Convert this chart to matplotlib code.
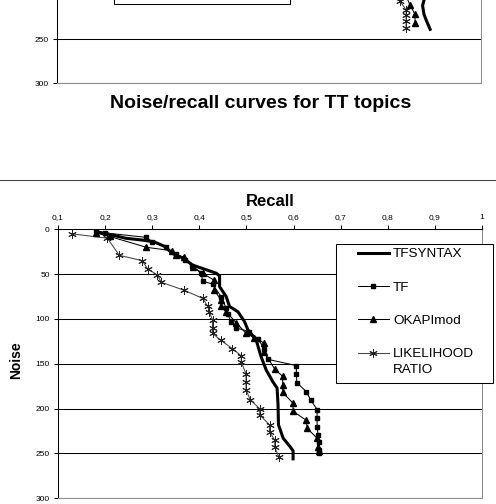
import matplotlib.pyplot as plt
import numpy as np
from matplotlib.legend_handler import HandlerLine2D
from matplotlib.lines import Line2D
from matplotlib.patches import Rectangle
from matplotlib.ticker import FuncFormatter

plt.rcParams["font.family"] = ["Liberation Sans", "DejaVu Sans"]

# ---- data ----
series_labels = ["TFSYNTAX", "TF", "OKAPImod", "LIKELIHOOD\nRATIO"]
recall_ticks = [0.1, 0.2, 0.3, 0.4, 0.5, 0.6, 0.7, 0.8, 0.9, 1.0]
noise_ticks = [0, 50, 100, 150, 200, 250, 300]
prev_noise_ticks = [250, 300]

tfsyntax_recall = [0.18, 0.184, 0.212, 0.244, 0.279, 0.304, 0.326, 0.343, 0.365, 0.386,
                   0.414, 0.436, 0.443, 0.443, 0.457, 0.464, 0.482, 0.496, 0.503, 0.521,
                   0.531, 0.542, 0.556, 0.565, 0.567, 0.568, 0.578, 0.592, 0.599, 0.599]
tfsyntax_noise = [0, 3, 6, 10, 12, 14, 19, 27, 32, 40,
                  45, 49, 52, 64, 75, 86, 92, 103, 112, 124,
                  142, 157, 170, 177, 195, 218, 233, 242, 247, 256]

tf_recall = [0.18, 0.20, 0.287, 0.30, 0.33, 0.35, 0.37, 0.385, 0.404, 0.407,
             0.428, 0.446, 0.457, 0.460, 0.467, 0.478, 0.506, 0.524, 0.538, 0.545,
             0.606, 0.606, 0.607, 0.627, 0.636, 0.650, 0.650, 0.650, 0.652, 0.654,
             0.655, 0.655]
tf_noise = [2, 4, 9, 14, 20, 28, 34, 41, 49, 58,
            61, 75, 88, 94, 103, 110, 114, 122, 133, 145,
            152, 161, 171, 181, 190, 201, 211, 220, 229, 237,
            246, 249]

okapi_recall = [0.18, 0.21, 0.287, 0.343, 0.350, 0.368, 0.386, 0.407, 0.432, 0.432,
                0.446, 0.446, 0.457, 0.478, 0.499, 0.517, 0.538, 0.538, 0.560, 0.577,
                0.577, 0.577, 0.599, 0.599, 0.627, 0.629, 0.650, 0.652, 0.654]
okapi_noise = [4, 8, 20, 24, 29, 31, 42, 49, 57, 68,
               79, 86, 92, 104, 116, 121, 127, 137, 156, 164,
               174, 182, 194, 203, 213, 222, 233, 243, 247]

lr_recall = [0.129, 0.205, 0.230, 0.279, 0.290, 0.311, 0.319, 0.368, 0.407, 0.418,
             0.421, 0.428, 0.428, 0.428, 0.446, 0.470, 0.489, 0.489, 0.499, 0.499,
             0.499, 0.508, 0.528, 0.528, 0.549, 0.549, 0.560, 0.560, 0.569]
lr_noise = [5, 10, 29, 35, 44, 51, 59, 68, 77, 86,
            92, 101, 110, 116, 124, 133, 141, 148, 161, 170,
            179, 190, 200, 207, 218, 226, 235, 243, 254]

# tail of the previous chart (only its bottom is visible at the top of the image)
prev_tfsyntax_recall = [0.878, 0.879, 0.876, 0.879, 0.884, 0.892]
prev_tfsyntax_noise = [195, 206, 212, 222, 229, 239]
prev_okapi_recall = [0.840, 0.849, 0.860, 0.860]
prev_okapi_noise = [200, 211, 222, 232]
prev_lr_recall = [0.826, 0.828, 0.841, 0.841, 0.841, 0.841]
prev_lr_noise = [200, 207, 217, 223, 230, 238]

W, H = 496, 504
fig = plt.figure(figsize=(W / 100, H / 100), dpi=100)


def px_box(x0, y0, x1, y1):
    """pixel box (origin top-left) -> figure fraction rect"""
    return [x0 / W, 1 - y1 / H, (x1 - x0) / W, (y1 - y0) / H]


def style_axes(a, yticks):
    a.set_xlim(0.1, 1.0)
    a.set_ylim(300, 0)
    a.set_yticks(yticks)
    a.yaxis.set_major_formatter(FuncFormatter(lambda v, p: f"{v:g}"))
    a.set_axisbelow(True)
    a.grid(axis="y", color="black", linewidth=0.75)
    a.grid(axis="x", visible=False)
    a.xaxis.tick_top()
    a.set_xticks(recall_ticks)
    a.xaxis.set_major_formatter(
        FuncFormatter(lambda v, p: f"{v:g}".replace(".", ","))
    )
    a.tick_params(direction="out", length=3, width=0.75, labelsize=6, pad=3,
                  colors="black")
    for s in ("left", "top"):
        a.spines[s].set_color("black")
        a.spines[s].set_linewidth(0.75)
    for s in ("right", "bottom"):
        a.spines[s].set_color("#8c8c8c")
        a.spines[s].set_linewidth(0.75)


thin = dict(color="black", linewidth=0.75)
lr_style = dict(color="#444444", linewidth=0.75, marker=(6, 2, 0), markersize=6,
                markeredgecolor="#222222", markeredgewidth=0.7)

# previous chart tail
top = fig.add_axes(px_box(57, 83 - 264, 481, 83))
style_axes(top, prev_noise_ticks)
top.tick_params(axis="x", top=False, labeltop=False)
top.plot(prev_lr_recall, prev_lr_noise, **lr_style)
top.plot(prev_okapi_recall, prev_okapi_noise, marker="^", markersize=5, **thin)
top.plot(prev_tfsyntax_recall, prev_tfsyntax_noise, color="black", linewidth=2.2)
fig.add_artist(Rectangle((114 / W, 1 - 4.3 / H), 176 / W, 0.1,
                         transform=fig.transFigure, facecolor="white",
                         edgecolor="black", linewidth=0.75, zorder=4))

fig.text(261 / W, 1 - 104 / H, "Noise/recall curves for TT topics",
         ha="center", va="center", fontsize=14, fontweight="bold")

fig.add_artist(Line2D([0, 1], [1 - 179.7 / H] * 2, transform=fig.transFigure,
                      color="#404040", linewidth=0.75))

# main chart
ax = fig.add_axes(px_box(58, 229.3, 482, 498.3))
style_axes(ax, noise_ticks)
ax.xaxis.set_label_position("top")
ax.set_xlabel("Recall", fontsize=12, fontweight="bold", labelpad=6)
ax.set_ylabel("Noise", fontsize=10, fontweight="bold", va="center")
ax.yaxis.set_label_coords(-0.099, 0.512)

h_lr, = ax.plot(lr_recall, lr_noise, **lr_style)
h_ok, = ax.plot(okapi_recall, okapi_noise, marker="^", markersize=5, **thin)
h_tf, = ax.plot(tf_recall, tf_noise, marker="s", markersize=3, **thin)
h_ts, = ax.plot(tfsyntax_recall, tfsyntax_noise, color="black", linewidth=2.2)


class FirstLineHandler(HandlerLine2D):
    """put the handle next to the first line of a two-line label"""

    def create_artists(self, legend, orig_handle, xdescent, ydescent, width,
                       height, fontsize, trans):
        arts = super().create_artists(legend, orig_handle, xdescent, ydescent,
                                      width, height, fontsize, trans)
        for a in arts:
            a.set_ydata(np.asarray(a.get_ydata(), float) + 0.64 * fontsize)
        return arts


fig.add_artist(Rectangle((336 / W, 1 - 383 / H), 157 / W, 139 / H,
                         transform=fig.transFigure, facecolor="white",
                         edgecolor="black", linewidth=0.75, zorder=4))
leg = fig.legend([h_ts, h_tf, h_ok, h_lr], series_labels, loc="upper left",
                 bbox_to_anchor=(358 / W, 1 - 248 / H), frameon=False,
                 fontsize=9.7, handlelength=2.3, handletextpad=0.3,
                 labelspacing=1.55, borderpad=0, borderaxespad=0, numpoints=1,
                 handler_map={h_lr: FirstLineHandler()})
for t in leg.get_texts():
    t.set_linespacing(1.45)
leg.set_zorder(5)

fig.savefig("out.png", dpi=100)
